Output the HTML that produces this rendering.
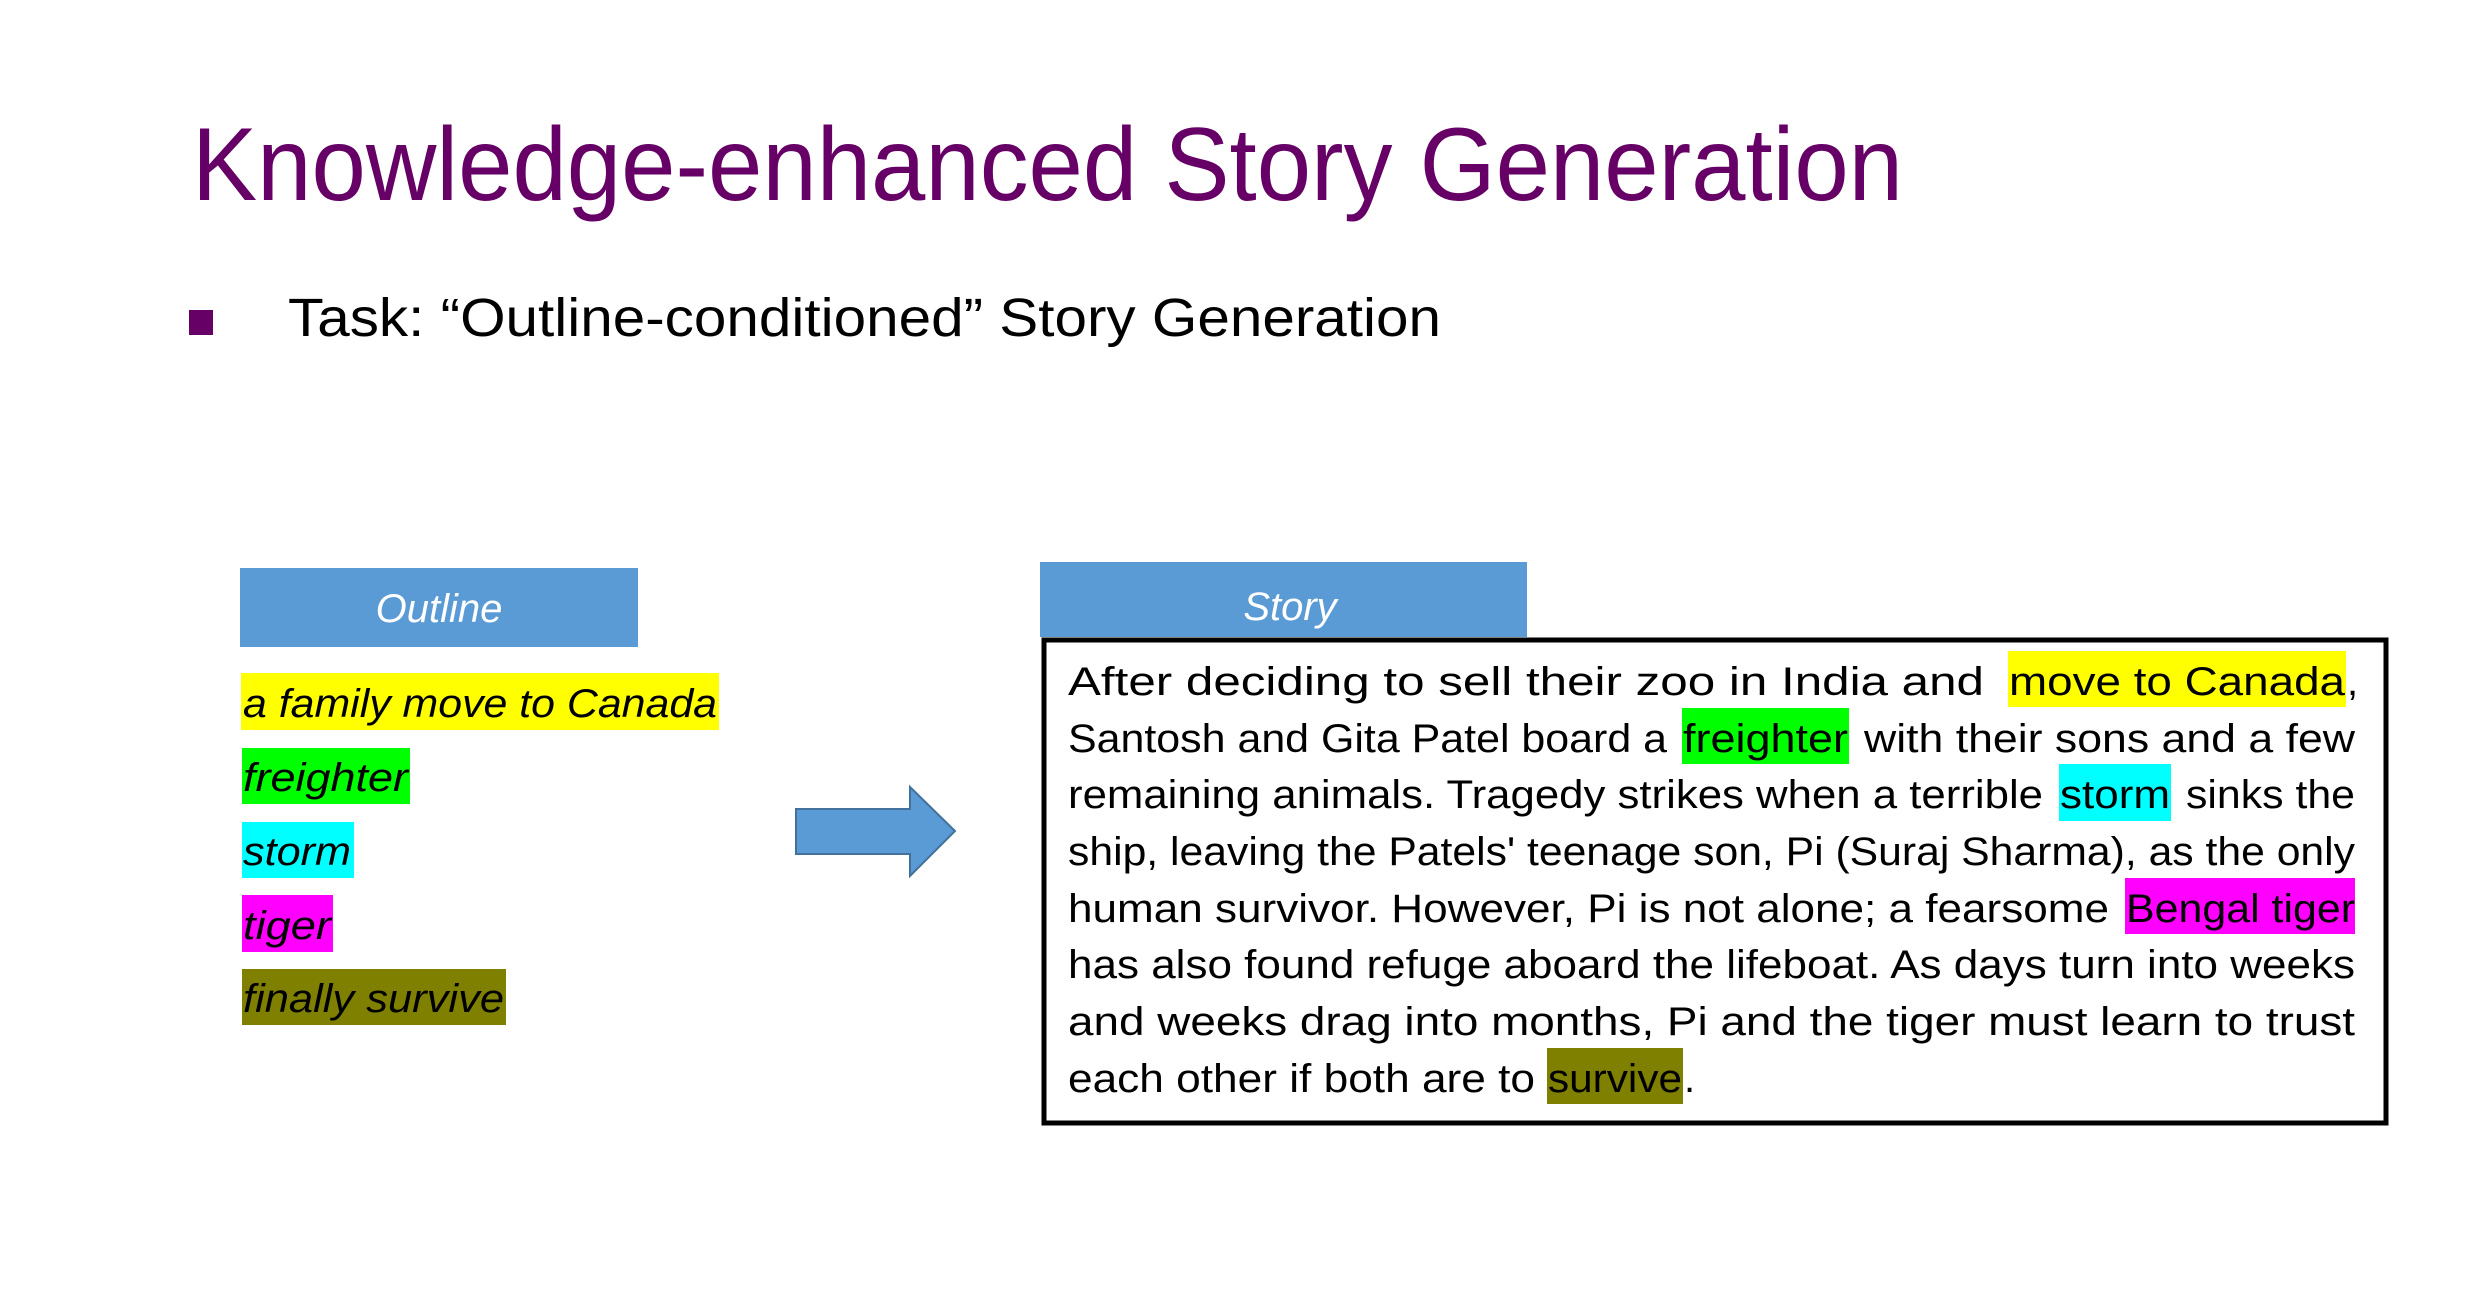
<!DOCTYPE html>
<html><head><meta charset="utf-8"><style>
html,body{margin:0;padding:0;background:#fff;}
svg{display:block;}
text{font-family:"Liberation Sans",sans-serif;}
</style></head><body>
<svg width="2486" height="1306" viewBox="0 0 2486 1306" xmlns="http://www.w3.org/2000/svg">
<rect width="2486" height="1306" fill="#fff"/>
<text x="192" y="200" font-size="104" fill="#660066" textLength="1711" lengthAdjust="spacingAndGlyphs">Knowledge-enhanced Story Generation</text>
<rect x="189" y="310" width="24" height="25" fill="#660066"/>
<text x="288" y="336" font-size="54" fill="#000" textLength="1153" lengthAdjust="spacingAndGlyphs">Task: “Outline-conditioned” Story Generation</text>

<!-- Outline -->
<rect x="240" y="568" width="398" height="79" fill="#5b9bd5"/>
<text x="439" y="622" font-size="40" font-style="italic" fill="#fff" text-anchor="middle">Outline</text>
<rect x="241" y="673" width="478" height="57" fill="#ffff00"/>
<text x="243" y="717" font-size="40" font-style="italic" textLength="474" lengthAdjust="spacingAndGlyphs">a family move to Canada</text>
<rect x="242" y="748" width="168" height="56" fill="#00ff00"/>
<text x="243" y="791" font-size="40" font-style="italic" textLength="165" lengthAdjust="spacingAndGlyphs">freighter</text>
<rect x="242" y="822" width="112" height="56" fill="#00ffff"/>
<text x="243" y="865" font-size="40" font-style="italic" textLength="108" lengthAdjust="spacingAndGlyphs">storm</text>
<rect x="242" y="895" width="91" height="57" fill="#ff00ff"/>
<text x="243" y="939" font-size="40" font-style="italic" textLength="88" lengthAdjust="spacingAndGlyphs">tiger</text>
<rect x="242" y="969" width="264" height="56" fill="#808000"/>
<text x="243" y="1012" font-size="40" font-style="italic" textLength="261" lengthAdjust="spacingAndGlyphs">finally survive</text>

<!-- Arrow -->
<path d="M796,809 L910,809 L910,787 L955,831 L910,876 L910,854 L796,854 Z" fill="#5b9bd5" stroke="#41719c" stroke-width="2"/>

<!-- Story -->
<rect x="1040" y="562" width="487" height="75" fill="#5b9bd5"/>
<text x="1290" y="620" font-size="40" font-style="italic" fill="#fff" text-anchor="middle">Story</text>
<rect x="1044" y="640" width="1342" height="483" fill="none" stroke="#000" stroke-width="5"/>

<g font-size="40" fill="#000">
<rect x="2008" y="651" width="338" height="56" fill="#ffff00"/>
<rect x="1682" y="708" width="167" height="56" fill="#00ff00"/>
<rect x="2059" y="764" width="112" height="57" fill="#00ffff"/>
<rect x="2125" y="878" width="230" height="56" fill="#ff00ff"/>
<rect x="1547" y="1048" width="136" height="56" fill="#808000"/>

<text x="1068" y="695" textLength="916" lengthAdjust="spacingAndGlyphs">After deciding to sell their zoo in India and</text>
<text x="2009" y="695" textLength="336" lengthAdjust="spacingAndGlyphs">move to Canada</text>
<text x="2347" y="695">,</text>

<text x="1068" y="752" textLength="599" lengthAdjust="spacingAndGlyphs">Santosh and Gita Patel board a</text>
<text x="1683" y="752" textLength="165" lengthAdjust="spacingAndGlyphs">freighter</text>
<text x="1864" y="752" textLength="491" lengthAdjust="spacingAndGlyphs">with their sons and a few</text>

<text x="1068" y="808" textLength="975" lengthAdjust="spacingAndGlyphs">remaining animals. Tragedy strikes when a terrible</text>
<text x="2060" y="808" textLength="110" lengthAdjust="spacingAndGlyphs">storm</text>
<text x="2186" y="808" textLength="169" lengthAdjust="spacingAndGlyphs">sinks the</text>

<text x="1068" y="865" textLength="1287" lengthAdjust="spacingAndGlyphs">ship, leaving the Patels' teenage son, Pi (Suraj Sharma), as the only</text>

<text x="1068" y="922" textLength="1041" lengthAdjust="spacingAndGlyphs">human survivor. However, Pi is not alone; a fearsome</text>
<text x="2126" y="922" textLength="229" lengthAdjust="spacingAndGlyphs">Bengal tiger</text>

<text x="1068" y="978" textLength="1287" lengthAdjust="spacingAndGlyphs">has also found refuge aboard the lifeboat. As days turn into weeks</text>
<text x="1068" y="1035" textLength="1287" lengthAdjust="spacingAndGlyphs">and weeks drag into months, Pi and the tiger must learn to trust</text>

<text x="1068" y="1092" textLength="467" lengthAdjust="spacingAndGlyphs">each other if both are to</text>
<text x="1548" y="1092" textLength="134" lengthAdjust="spacingAndGlyphs">survive</text>
<text x="1684" y="1092">.</text>
</g>
</svg>
</body></html>
